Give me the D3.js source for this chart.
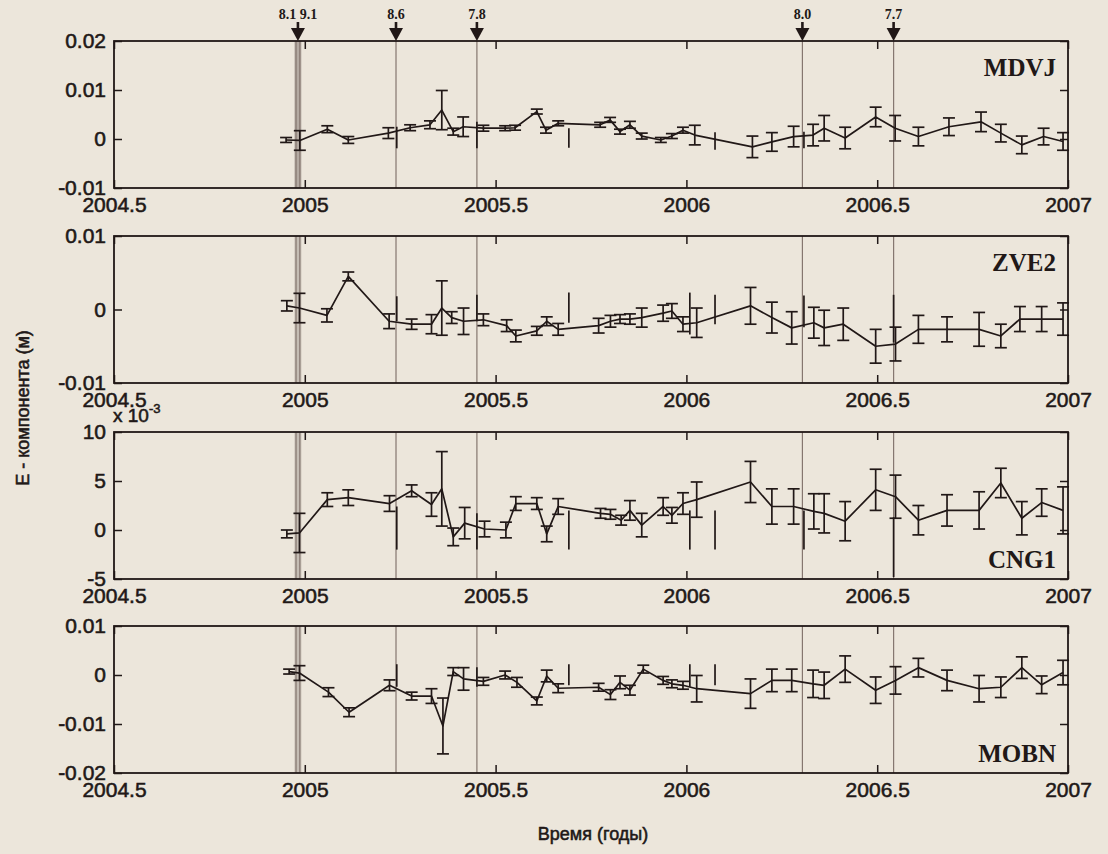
<!DOCTYPE html>
<html>
<head>
<meta charset="utf-8">
<script src="https://cdn.jsdelivr.net/npm/d3@7"></script>
<style>
  html, body { margin: 0; padding: 0; background: #ece6db; }
  svg { display: block; }
</style>
</head>
<body>
<svg id="chart" width="1108" height="854"></svg>
<script>
// ---- time axis ----
const xTicks = [2004.5, 2005, 2005.5, 2006, 2006.5, 2007];

// ---- earthquakes: vertical marker lines and arrow labels ----
const quakeTimes = [2004.977, 2004.987, 2005.239, 2005.451, 2006.304, 2006.543];
const arrowTimes = [2004.982, 2005.239, 2005.451, 2006.304, 2006.543];
const arrowLabels = ["8.1 9.1", "8.6", "7.8", "8.0", "7.7"];

// ---- station names, y ranges and ticks ----
const stationNames = ["MDVJ", "ZVE2", "CNG1", "MOBN"];
const yDomains = [[-0.01, 0.02], [-0.01, 0.01], [-0.005, 0.01], [-0.02, 0.01]];
const yTickSets = [
  [-0.01, 0, 0.01, 0.02],
  [-0.01, 0, 0.01],
  [-0.005, 0, 0.005, 0.01],
  [-0.02, 0, -0.01, 0.01]
];
const yTickScale = [1, 1, 1000, 1];   // CNG1 is labelled in units of 10^-3

// ---- MDVJ ----
const MDVJ_T = [2004.951, 2004.987, 2005.059, 2005.114, 2005.219, 2005.276, 2005.328, 2005.359, 2005.389, 2005.415,
  2005.468, 2005.525, 2005.551, 2005.608, 2005.632, 2005.664, 2005.774, 2005.800, 2005.826, 2005.852,
  2005.883, 2005.933, 2005.962, 2005.991, 2006.022, 2006.173, 2006.224, 2006.281, 2006.332, 2006.361,
  2006.416, 2006.496, 2006.547, 2006.608, 2006.688, 2006.772, 2006.824, 2006.879, 2006.936, 2006.987];
const MDVJ_E = [-0.0002, -0.0003, 0.0020, -0.0002, 0.0012, 0.0023, 0.0029, 0.0059, 0.0015, 0.0025,
  0.0022, 0.0022, 0.0023, 0.0056, 0.0018, 0.0032, 0.0029, 0.0039, 0.0015, 0.0029,
  0.0006, -0.0002, 0.0006, 0.0018, 0.0008, -0.0016, -0.0006, 0.0005, 0.0008, 0.0022,
  0.0002, 0.0045, 0.0022, 0.0005, 0.0025, 0.0035, 0.0012, -0.0012, 0.0005, -0.0005];
const MDVJ_S = [0.0005, 0.0020, 0.0007, 0.0007, 0.0011, 0.0006, 0.0008, 0.0040, 0.0007, 0.0020,
  0.0006, 0.0005, 0.0005, 0.0005, 0.0006, 0.0005, 0.0005, 0.0005, 0.0005, 0.0007,
  0.0006, 0.0005, 0.0005, 0.0006, 0.0020, 0.0022, 0.0019, 0.0021, 0.0022, 0.0026,
  0.0022, 0.0020, 0.0026, 0.0019, 0.0018, 0.0020, 0.0018, 0.0018, 0.0017, 0.0018];
const MDVJ_JUMPS = [[2005.241, -0.0019, 0.0025], [2005.451, -0.0019, 0.0035], [2005.692, -0.0018, 0.0022],
  [2006.075, -0.0022, 0.0014], [2006.308, -0.0019, 0.0015]];

// ---- ZVE2 ----
const ZVE2_T = [2004.953, 2004.986, 2005.058, 2005.114, 2005.221, 2005.280, 2005.332, 2005.359, 2005.385, 2005.416,
  2005.468, 2005.529, 2005.553, 2005.608, 2005.634, 2005.664, 2005.770, 2005.801, 2005.826, 2005.852,
  2005.883, 2005.939, 2005.962, 2005.991, 2006.027, 2006.168, 2006.224, 2006.276, 2006.334, 2006.361,
  2006.411, 2006.496, 2006.548, 2006.608, 2006.683, 2006.767, 2006.824, 2006.874, 2006.931, 2006.987];
const ZVE2_E = [0.0005, 0.0002, -0.0008, 0.0045, -0.0016, -0.0020, -0.0020, 0.0002, -0.0011, -0.0016,
  -0.0014, -0.0022, -0.0036, -0.0029, -0.0016, -0.0027, -0.0022, -0.0016, -0.0013, -0.0013,
  -0.0011, -0.0005, -0.0002, -0.0020, -0.0018, 0.0005, -0.0011, -0.0025, -0.0018, -0.0025,
  -0.0020, -0.0050, -0.0047, -0.0027, -0.0027, -0.0027, -0.0036, -0.0013, -0.0013, -0.0013];
const ZVE2_S = [0.0007, 0.0020, 0.0009, 0.0006, 0.0010, 0.0007, 0.0013, 0.0037, 0.0008, 0.0018,
  0.0008, 0.0008, 0.0008, 0.0006, 0.0006, 0.0008, 0.0010, 0.0008, 0.0006, 0.0007,
  0.0013, 0.0011, 0.0010, 0.0010, 0.0020, 0.0025, 0.0021, 0.0022, 0.0021, 0.0024,
  0.0022, 0.0023, 0.0023, 0.0019, 0.0017, 0.0023, 0.0016, 0.0017, 0.0017, 0.0022];
const ZVE2_JUMPS = [[2005.241, -0.0016, 0.0018], [2005.451, -0.0016, 0.0020], [2005.692, -0.0018, 0.0023],
  [2006.009, -0.0034, 0.0023], [2006.075, -0.0020, 0.0020], [2006.308, -0.0024, 0.0019], [2006.543, -0.0045, 0.0020]];

// ---- CNG1 ----
const CNG1_T = [2004.953, 2004.986, 2005.059, 2005.114, 2005.222, 2005.280, 2005.332, 2005.359, 2005.389, 2005.419,
  2005.471, 2005.527, 2005.553, 2005.608, 2005.634, 2005.664, 2005.775, 2005.801, 2005.829, 2005.852,
  2005.883, 2005.939, 2005.962, 2005.991, 2006.027, 2006.168, 2006.224, 2006.281, 2006.334, 2006.361,
  2006.416, 2006.496, 2006.548, 2006.608, 2006.683, 2006.767, 2006.824, 2006.879, 2006.931, 2006.987];
const CNG1_E = [-0.0004, -0.0003, 0.0031, 0.0033, 0.0027, 0.0040, 0.0026, 0.0042, -0.0007, 0.0007,
  0.0001, 0.0000, 0.0027, 0.0027, -0.0004, 0.0024, 0.0017, 0.0016, 0.0010, 0.0020,
  0.0005, 0.0024, 0.0015, 0.0027, 0.0031, 0.0049, 0.0024, 0.0024, 0.0019, 0.0017,
  0.0009, 0.0041, 0.0034, 0.0010, 0.0020, 0.0020, 0.0048, 0.0012, 0.0028, 0.0020];
const CNG1_S = [0.0004, 0.0020, 0.0007, 0.0008, 0.0008, 0.0006, 0.0012, 0.0038, 0.0009, 0.0016,
  0.0008, 0.0008, 0.0007, 0.0006, 0.0008, 0.0008, 0.0005, 0.0005, 0.0005, 0.0010,
  0.0012, 0.0009, 0.0008, 0.0011, 0.0018, 0.0021, 0.0018, 0.0018, 0.0018, 0.0020,
  0.0020, 0.0021, 0.0022, 0.0015, 0.0016, 0.0019, 0.0015, 0.0017, 0.0014, 0.0024];
const CNG1_JUMPS = [[2005.241, -0.0020, 0.0024], [2005.451, -0.0020, 0.0017], [2005.692, -0.0020, 0.0020],
  [2006.009, -0.0020, 0.0020], [2006.075, -0.0020, 0.0020], [2006.308, -0.0020, 0.0020], [2006.543, -0.0048, 0.0013]];

// ---- MOBN ----
const MOBN_T = [2004.959, 2004.986, 2005.062, 2005.116, 2005.222, 2005.280, 2005.332, 2005.362, 2005.389, 2005.416,
  2005.468, 2005.525, 2005.556, 2005.608, 2005.634, 2005.664, 2005.770, 2005.801, 2005.826, 2005.852,
  2005.887, 2005.939, 2005.962, 2005.991, 2006.027, 2006.168, 2006.224, 2006.276, 2006.332, 2006.361,
  2006.416, 2006.496, 2006.548, 2006.608, 2006.683, 2006.767, 2006.824, 2006.879, 2006.931, 2006.987];
const MOBN_E = [0.0007, 0.0004, -0.0035, -0.0076, -0.0021, -0.0043, -0.0043, -0.0104, 0.0007, -0.0008,
  -0.0013, 0.0000, -0.0015, -0.0053, -0.0002, -0.0027, -0.0025, -0.0040, -0.0015, -0.0031,
  0.0012, -0.0011, -0.0018, -0.0021, -0.0028, -0.0038, -0.0011, -0.0011, -0.0018, -0.0021,
  0.0012, -0.0031, -0.0011, 0.0015, -0.0011, -0.0028, -0.0025, 0.0015, -0.0020, 0.0005];
const MOBN_S = [0.0005, 0.0015, 0.0009, 0.0009, 0.0011, 0.0008, 0.0015, 0.0057, 0.0008, 0.0023,
  0.0008, 0.0008, 0.0010, 0.0008, 0.0012, 0.0009, 0.0008, 0.0010, 0.0013, 0.0010,
  0.0008, 0.0008, 0.0008, 0.0008, 0.0027, 0.0030, 0.0023, 0.0023, 0.0028, 0.0027,
  0.0027, 0.0027, 0.0028, 0.0019, 0.0021, 0.0027, 0.0021, 0.0022, 0.0018, 0.0025];
const MOBN_JUMPS = [[2005.241, -0.0024, 0.0022], [2005.451, -0.0024, 0.0016], [2005.692, -0.0021, 0.0022],
  [2006.009, -0.0024, 0.0022], [2006.075, -0.0021, 0.0022]];

const seriesT = [MDVJ_T, ZVE2_T, CNG1_T, MOBN_T];
const seriesE = [MDVJ_E, ZVE2_E, CNG1_E, MOBN_E];
const seriesS = [MDVJ_S, ZVE2_S, CNG1_S, MOBN_S];
const seriesJumps = [MDVJ_JUMPS, ZVE2_JUMPS, CNG1_JUMPS, MOBN_JUMPS];

// ---- layout ----
const INK = "#211817";
const GRID = "#85766f";
const plotLeft = 114, plotRight = 1068;
const panelTops = [41, 236, 432, 626];
const panelH = 147;
const tickLen = 8;
const capHalf = 6;
const fontAxis = "'Liberation Sans', Arial, sans-serif";
const fontSerif = "'Liberation Serif', 'Times New Roman', serif";

const svg = d3.select("#chart");
const x = d3.scaleLinear().domain([2004.5, 2007]).range([plotLeft, plotRight]);

const fmt = (v, k) => String(+(v * k).toFixed(4));

// heavier text, like the printed figure
const inkText = sel => sel
  .attr("fill", INK)
  .attr("stroke", INK)
  .attr("stroke-width", 0.55)
  .attr("paint-order", "stroke");

stationNames.forEach((name, i) => {
  const top = panelTops[i], bottom = top + panelH;
  const y = d3.scaleLinear().domain(yDomains[i]).range([bottom, top]);
  const g = svg.append("g").attr("class", "panel");

  // band behind the paired December 2004 events
  g.append("rect")
    .attr("x", x(quakeTimes[0]) - 1.5)
    .attr("y", top)
    .attr("width", x(quakeTimes[1]) - x(quakeTimes[0]) + 3)
    .attr("height", panelH)
    .attr("fill", "#a69b94")
    .attr("opacity", i === 0 ? 0.8 : 0.55);

  // earthquake marker lines
  g.selectAll("line.quake").data(quakeTimes).join("line")
    .attr("class", "quake")
    .attr("x1", d => x(d)).attr("x2", d => x(d))
    .attr("y1", top).attr("y2", bottom)
    .attr("stroke", GRID).attr("stroke-width", 1.2);

  // offset segments (no caps)
  g.selectAll("line.jump").data(seriesJumps[i]).join("line")
    .attr("class", "jump")
    .attr("x1", d => x(d[0])).attr("x2", d => x(d[0]))
    .attr("y1", d => y(d[1])).attr("y2", d => y(d[2]))
    .attr("stroke", INK).attr("stroke-width", 1.7);

  const pts = seriesT[i].map((t, j) => ({ t, v: seriesE[i][j], s: seriesS[i][j] }));

  // time series
  g.append("path")
    .datum(pts)
    .attr("fill", "none")
    .attr("stroke", INK)
    .attr("stroke-width", 1.7)
    .attr("stroke-linejoin", "round")
    .attr("d", d3.line().x(d => x(d.t)).y(d => y(d.v)));

  // error bars
  const eb = g.selectAll("g.eb").data(pts).join("g").attr("class", "eb")
    .attr("stroke", INK).attr("stroke-width", 1.7);
  eb.append("line")
    .attr("x1", d => x(d.t)).attr("x2", d => x(d.t))
    .attr("y1", d => y(d.v - d.s)).attr("y2", d => y(d.v + d.s));
  eb.append("line")
    .attr("x1", d => x(d.t) - capHalf).attr("x2", d => x(d.t) + capHalf)
    .attr("y1", d => y(d.v + d.s)).attr("y2", d => y(d.v + d.s));
  eb.append("line")
    .attr("x1", d => x(d.t) - capHalf).attr("x2", d => x(d.t) + capHalf)
    .attr("y1", d => y(d.v - d.s)).attr("y2", d => y(d.v - d.s));

  // axes: ticks pointing inward on all four sides
  const k = yTickScale[i];
  const left = g.append("g").attr("transform", `translate(${plotLeft},0)`)
    .call(d3.axisLeft(y).tickValues(yTickSets[i]).tickSize(-tickLen).tickPadding(8)
      .tickFormat(d => fmt(d, k)));
  const right = g.append("g").attr("transform", `translate(${plotRight},0)`)
    .call(d3.axisRight(y).tickValues(yTickSets[i]).tickSize(-tickLen).tickFormat(""));
  const bottomAx = g.append("g").attr("transform", `translate(0,${bottom})`)
    .call(d3.axisBottom(x).tickValues(xTicks).tickSize(-tickLen).tickPadding(9)
      .tickFormat(d => String(d)));
  const topAx = g.append("g").attr("transform", `translate(0,${top})`)
    .call(d3.axisTop(x).tickValues(xTicks).tickSize(-tickLen).tickFormat(""));

  [left, right, bottomAx, topAx].forEach(a => {
    a.select(".domain").remove();
    a.selectAll(".tick line").attr("stroke", INK).attr("stroke-width", 1.5);
    a.selectAll(".tick text")
      .call(inkText)
      .style("font-family", fontAxis)
      .style("font-size", "21px");
  });

  // frame
  g.append("rect")
    .attr("x", plotLeft).attr("y", top)
    .attr("width", plotRight - plotLeft).attr("height", panelH)
    .attr("fill", "none").attr("stroke", INK).attr("stroke-width", 1.8);

  // station name
  const nameAtBottom = i >= 2;
  g.append("text")
    .attr("x", plotRight - 12)
    .attr("y", nameAtBottom ? bottom - 11 : top + 35)
    .attr("text-anchor", "end")
    .attr("fill", INK)
    .style("font-family", fontSerif)
    .style("font-weight", "bold")
    .style("font-size", "25px")
    .text(name);
});

// exponent label for CNG1
const expLabel = svg.append("text")
  .attr("x", 113).attr("y", panelTops[2] - 10)
  .call(inkText)
  .style("font-family", fontAxis)
  .style("font-size", "19px");
expLabel.append("tspan").text("x 10");
expLabel.append("tspan").attr("dy", -9).style("font-size", "13px").text("-3");

// earthquake arrows above the top panel
const arrowTop = panelTops[0];
const arrows = svg.append("g").selectAll("g").data(arrowTimes).join("g")
  .attr("transform", d => `translate(${x(d)},0)`);
arrows.append("line")
  .attr("x1", 0).attr("x2", 0).attr("y1", 22).attr("y2", arrowTop - 10)
  .attr("stroke", INK).attr("stroke-width", 2.6);
arrows.append("path")
  .attr("d", `M-7,${arrowTop - 13} L7,${arrowTop - 13} L0,${arrowTop} Z`)
  .attr("fill", INK);
arrows.append("text")
  .attr("x", 0).attr("y", 19)
  .attr("text-anchor", "middle")
  .attr("fill", INK)
  .style("font-family", fontSerif)
  .style("font-weight", "bold")
  .style("font-size", "14px")
  .text((d, j) => arrowLabels[j]);

// axis titles
svg.append("text")
  .attr("transform", "translate(29,408) rotate(-90)")
  .attr("text-anchor", "middle")
  .call(inkText)
  .style("font-family", fontAxis)
  .style("font-size", "18px")
  .text("E - компонента (м)");

svg.append("text")
  .attr("x", 593).attr("y", 840)
  .attr("text-anchor", "middle")
  .call(inkText)
  .style("font-family", fontAxis)
  .style("font-size", "18px")
  .text("Время (годы)");
</script>
</body>
</html>
